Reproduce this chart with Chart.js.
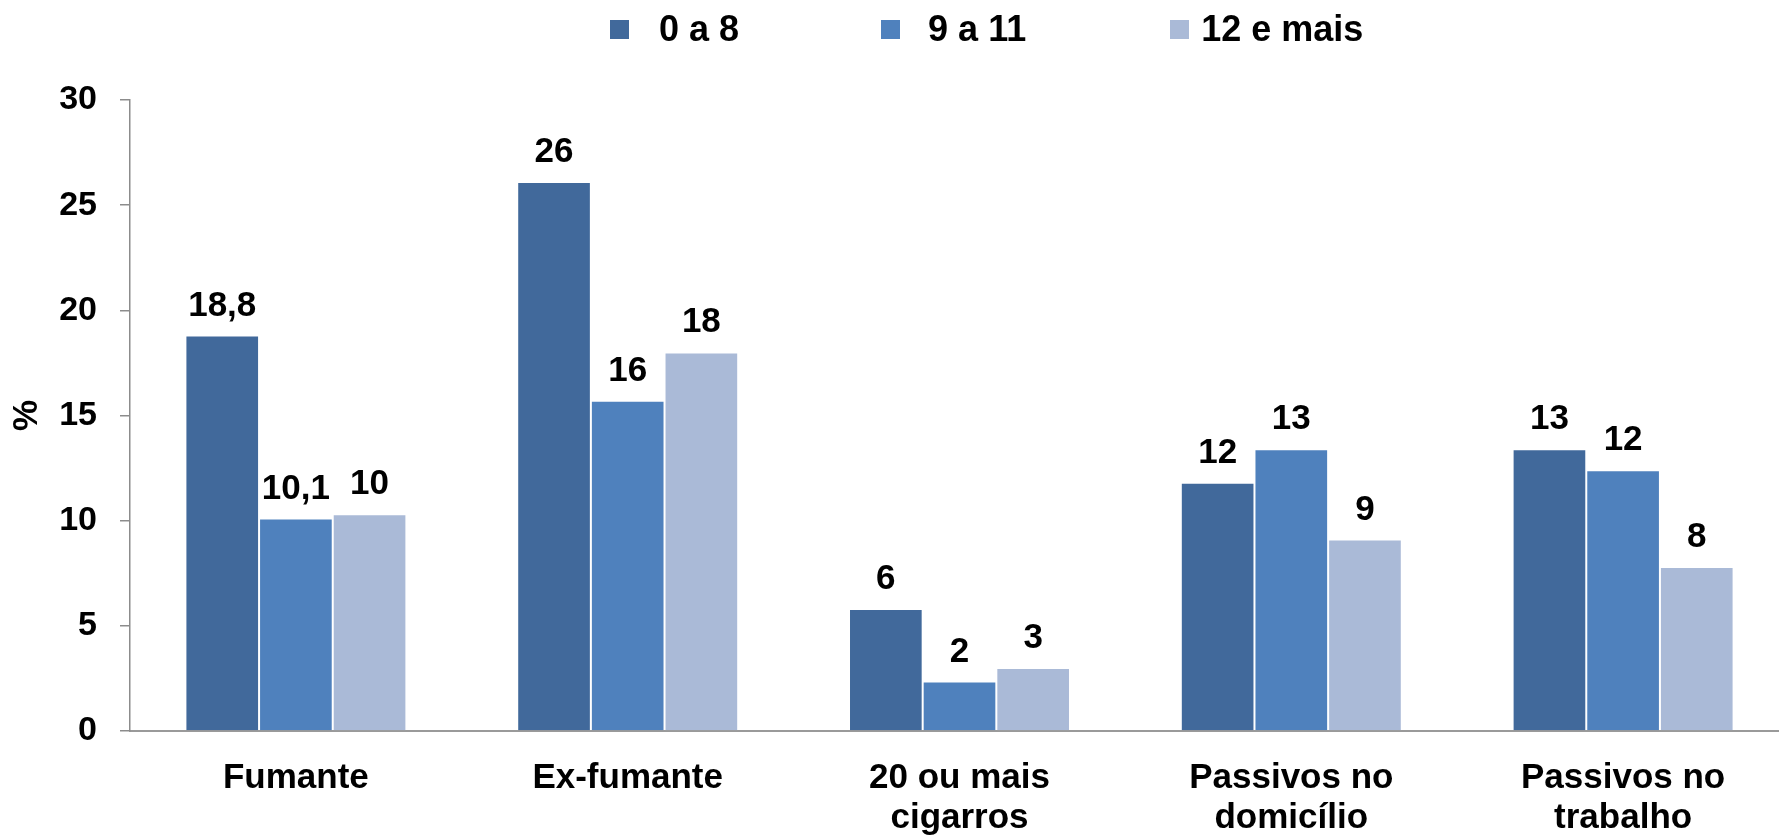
<!DOCTYPE html>
<html>
<head>
<meta charset="utf-8">
<script src="https://cdn.jsdelivr.net/npm/chart.js@4.4.1/dist/chart.umd.min.js"></script>
<style>
  html, body { margin: 0; padding: 0; background: #fff; overflow: hidden; }
  #wrap { position: relative; width: 1789px; height: 839px; }
  #legend {
    position: absolute; top: 8px; left: 610px;
    display: flex; align-items: center;
    font: bold 36px "Liberation Sans", Arial, sans-serif; color: #000;
  }
  #legend .item { display: flex; align-items: center; }
  #legend .box { width: 19px; height: 19px; display: inline-block; }
</style>
</head>
<body>
<div id="wrap">
  <canvas id="myChart" width="1789" height="839"></canvas>
  <div id="legend"></div>
</div>
<script>
// Data
const categories = ['Fumante', 'Ex-fumante', ['20 ou mais', 'cigarros'], ['Passivos no', 'domicílio'], ['Passivos no', 'trabalho']];
const seriesNames = ['0 a 8', '9 a 11', '12 e mais'];
const years0to8 = [18.8, 26.1, 5.8, 11.8, 13.4];
const years9to11 = [10.1, 15.7, 2.35, 13.4, 12.4];
const years12plus = [10.3, 18.0, 3.0, 9.1, 7.8];
// labels as printed on the bars
const labels0to8 = ['18,8', '26', '6', '12', '13'];
const labels9to11 = ['10,1', '16', '2', '13', '12'];
const labels12plus = ['10', '18', '3', '9', '8'];
const yTicks = [0, 5, 10, 15, 20, 25, 30];

const colors = ['#41699b', '#4f81bd', '#aabad7'];
const fontFamily = '"Liberation Sans", Arial, sans-serif';
const valueLabels = [labels0to8, labels9to11, labels12plus];

// Legend (html)
const legendGaps = [30, 28, 12];      // box -> text
const legendOffsets = [0, 142, 144];  // space before each item
const legendEl = document.getElementById('legend');
seriesNames.forEach(function(name, i) {
    const item = document.createElement('span');
    item.className = 'item';
    item.style.marginLeft = legendOffsets[i] + 'px';
    const box = document.createElement('span');
    box.className = 'box';
    box.style.background = colors[i];
    box.style.marginRight = legendGaps[i] + 'px';
    const txt = document.createElement('span');
    txt.textContent = name;
    item.appendChild(box);
    item.appendChild(txt);
    legendEl.appendChild(item);
});

// value labels above bars
const barLabels = {
    id: 'barLabels',
    afterDatasetsDraw(chart) {
        const ctx = chart.ctx;
        ctx.save();
        ctx.font = 'bold 35px ' + fontFamily;
        ctx.fillStyle = '#000';
        ctx.textAlign = 'center';
        ctx.textBaseline = 'alphabetic';
        chart.data.datasets.forEach(function(ds, i) {
            chart.getDatasetMeta(i).data.forEach(function(bar, j) {
                ctx.fillText(valueLabels[i][j], bar.x, bar.y - 20);
            });
        });
        ctx.restore();
    }
};

const data = {
    labels: categories,
    datasets: [
        { label: seriesNames[0], data: years0to8, backgroundColor: colors[0] },
        { label: seriesNames[1], data: years9to11, backgroundColor: colors[1] },
        { label: seriesNames[2], data: years12plus, backgroundColor: colors[2] }
    ]
};

const config = {
    type: 'bar',
    data: data,
    options: {
        responsive: false,
        animation: false,
        layout: { padding: { top: 100, bottom: 4, left: 0, right: 0 } },
        datasets: {
            bar: {
                categoryPercentage: 0.666,
                barPercentage: 1.0,
                borderWidth: 1,
                borderColor: 'rgba(255,255,255,0.35)'
            }
        },
        plugins: {
            legend: { display: false },
            tooltip: { enabled: false }
        },
        scales: {
            x: {
                afterFit: function(scale) { scale.height = 104; },
                grid: { display: false, drawTicks: false },
                border: { display: true, color: '#9a9a9a', width: 2 },
                ticks: {
                    color: '#000',
                    padding: 27,
                    font: { family: fontFamily, size: 35, weight: 'bold', lineHeight: 1.143 }
                }
            },
            y: {
                min: 0,
                max: 30,
                afterFit: function(scale) { scale.width = 130; },
                afterBuildTicks: function(scale) {
                    scale.ticks = yTicks.map(function(v) { return { value: v }; });
                },
                grid: { drawOnChartArea: false, drawTicks: true, tickLength: 10, color: '#8c8c8c', lineWidth: 1.5 },
                border: { display: true, color: '#8c8c8c', width: 1.5 },
                ticks: {
                    color: '#000',
                    padding: 23,
                    font: { family: fontFamily, size: 34, weight: 'bold' }
                },
                title: {
                    display: true,
                    text: '%',
                    color: '#000',
                    padding: { top: 6, bottom: 0 },
                    font: { family: fontFamily, size: 35, weight: 'bold' }
                }
            }
        }
    },
    plugins: [barLabels]
};

const chart = new Chart(document.getElementById('myChart'), config);
</script>
</body>
</html>
